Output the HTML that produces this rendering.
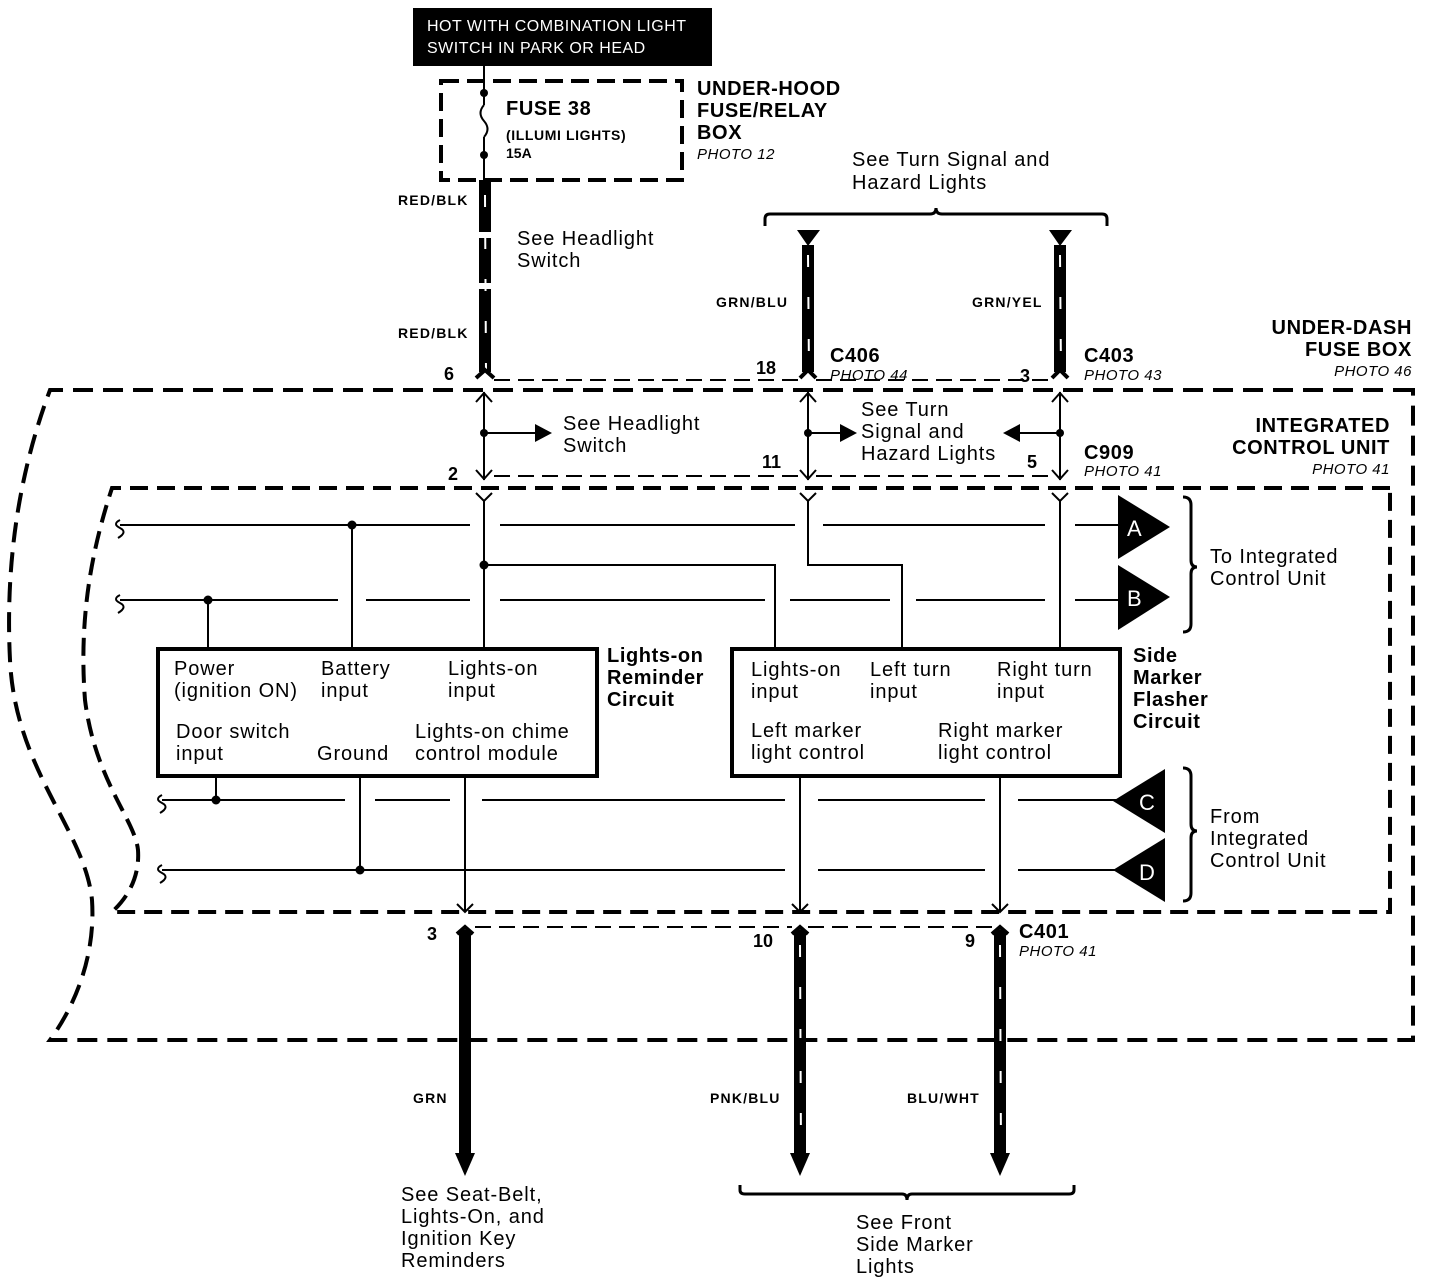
<!DOCTYPE html>
<html><head><meta charset="utf-8"><style>
html,body{margin:0;padding:0;background:#fff}
svg{display:block}
text{font-family:"Liberation Sans",Arial,sans-serif;fill:#000}
.t{font-size:20px;letter-spacing:0.9px}
.bt{font-size:20px;font-weight:bold;letter-spacing:0.6px}
.b{font-weight:bold}
.w{font-size:14px;font-weight:bold;letter-spacing:1.2px}
.i{font-style:italic;font-size:15px;letter-spacing:0.5px}
</style></head><body>
<svg width="1440" height="1284" viewBox="0 0 1440 1284" xmlns="http://www.w3.org/2000/svg">
<rect x="413" y="8" width="299" height="58" fill="#000"/>
<text x="427" y="31" font-size="16" letter-spacing="0.5" style="fill:#fff">HOT WITH COMBINATION LIGHT</text>
<text x="427" y="53" font-size="16" letter-spacing="0.5" style="fill:#fff">SWITCH IN PARK OR HEAD</text>
<rect x="441" y="81" width="241" height="99" fill="none" stroke="#000" stroke-width="4" stroke-dasharray="18 8"/>
<line x1="484" y1="66" x2="484" y2="105" stroke="#000" stroke-width="2"/>
<path d="M484 105 q-7 8 0 16 q7 8 0 16" fill="none" stroke="#000" stroke-width="2"/>
<line x1="484" y1="137" x2="484" y2="180" stroke="#000" stroke-width="2"/>
<circle cx="484" cy="93" r="4"/><circle cx="484" cy="155" r="4"/>
<text x="506" y="115" class="bt">FUSE 38</text>
<text x="506" y="140" font-size="14" class="b" letter-spacing="0.6">(ILLUMI LIGHTS)</text>
<text x="506" y="158" font-size="14" class="b">15A</text>
<text x="697" y="95" class="bt">UNDER-HOOD</text>
<text x="697" y="117" class="bt">FUSE/RELAY</text>
<text x="697" y="139" class="bt">BOX</text>
<text x="697" y="159" class="i">PHOTO 12</text>
<g stroke="#000" stroke-width="12">
<line x1="485" y1="180" x2="485" y2="232"/><line x1="485" y1="238" x2="485" y2="283"/><line x1="485" y1="289" x2="485" y2="372"/>
<line x1="808" y1="245" x2="808" y2="372"/><line x1="1060" y1="245" x2="1060" y2="372"/>
<line x1="465" y1="930" x2="465" y2="1155"/><line x1="800" y1="930" x2="800" y2="1155"/><line x1="1000" y1="930" x2="1000" y2="1155"/>
</g>
<g stroke="#fff" stroke-width="2" stroke-dasharray="12 30">
<line x1="485" y1="195" x2="486" y2="372"/><line x1="808" y1="255" x2="809" y2="372"/><line x1="1060" y1="255" x2="1061" y2="372"/>
<line x1="800" y1="945" x2="801" y2="1150"/><line x1="1000" y1="945" x2="1001" y2="1150"/>
</g>
<path d="M476 378 l9 -8 l9 8 M800 378 l8 -8 l8 8 M1052 378 l8 -8 l8 8" stroke="#000" stroke-width="4" fill="none"/>
<text x="398" y="205" class="w">RED/BLK</text>
<text x="398" y="338" class="w">RED/BLK</text>
<text x="517" y="245" class="t">See Headlight</text>
<text x="517" y="267" class="t">Switch</text>
<path d="M765 226 v-7 q0 -5 5 -5 h160 q6 0 6 -6 q0 6 6 6 h160 q5 0 5 5 v7" fill="none" stroke="#000" stroke-width="3"/>
<text x="852" y="166" class="t">See Turn Signal and</text>
<text x="852" y="189" class="t">Hazard Lights</text>
<polygon points="797,230 820,230 808,246"/><polygon points="1049,230 1072,230 1060,246"/>
<text x="716" y="307" class="w">GRN/BLU</text>
<text x="972" y="307" class="w">GRN/YEL</text>
<text x="830" y="362" class="bt">C406</text><text x="830" y="380" class="i">PHOTO 44</text>
<text x="1084" y="362" class="bt">C403</text><text x="1084" y="380" class="i">PHOTO 43</text>
<text x="444" y="380" font-size="18" class="b">6</text>
<text x="756" y="374" font-size="18" class="b">18</text>
<text x="1020" y="382" font-size="18" class="b">3</text>
<text x="1412" y="334" class="bt" text-anchor="end">UNDER-DASH</text>
<text x="1412" y="356" class="bt" text-anchor="end">FUSE BOX</text>
<text x="1412" y="376" class="i" text-anchor="end">PHOTO 46</text>
<line x1="494" y1="380" x2="800" y2="380" stroke="#000" stroke-width="2" stroke-dasharray="16 8"/>
<line x1="816" y1="380" x2="1052" y2="380" stroke="#000" stroke-width="2" stroke-dasharray="16 8"/>
<path d="M1413 390 H50 C20 470 5 560 10 660 C15 770 85 830 92 900 C96 960 72 1010 50 1040 H1413 Z" fill="none" stroke="#000" stroke-width="4" stroke-dasharray="20 10"/>
<path d="M1390 488 H112 C95 540 78 610 85 700 C95 780 135 820 138 850 C140 880 125 900 112 912 H1390 Z" fill="none" stroke="#000" stroke-width="4" stroke-dasharray="18 9"/>
<g stroke="#000" stroke-width="2" fill="none">
<line x1="484" y1="392" x2="484" y2="480"/><line x1="808" y1="392" x2="808" y2="480"/><line x1="1060" y1="392" x2="1060" y2="480"/>
<path d="M476 402 l8 -9 l8 9 M800 402 l8 -9 l8 9 M1052 402 l8 -9 l8 9"/>
<path d="M476 470 l8 9 l8 -9 M800 470 l8 9 l8 -9 M1052 470 l8 9 l8 -9"/>
<line x1="484" y1="433" x2="535" y2="433"/><line x1="808" y1="433" x2="840" y2="433"/><line x1="1060" y1="433" x2="1020" y2="433"/>
<line x1="494" y1="476" x2="800" y2="476" stroke-dasharray="16 8"/><line x1="816" y1="476" x2="1052" y2="476" stroke-dasharray="16 8"/>
<path d="M476 493 l8 8 l8 -8 M800 493 l8 8 l8 -8 M1052 493 l8 8 l8 -8"/>
<line x1="484" y1="501" x2="484" y2="648"/>
<path d="M808 501 V565 H902 V648"/>
<line x1="1060" y1="501" x2="1060" y2="648"/>
<path d="M484 565 H775 V648"/>
</g>
<circle cx="484" cy="433" r="4"/><circle cx="808" cy="433" r="4"/><circle cx="1060" cy="433" r="4"/>
<polygon points="535,424 552,433 535,442"/><polygon points="840,424 857,433 840,442"/><polygon points="1020,424 1003,433 1020,442"/>
<text x="563" y="430" class="t">See Headlight</text><text x="563" y="452" class="t">Switch</text>
<text x="861" y="416" class="t">See Turn</text><text x="861" y="438" class="t">Signal and</text><text x="861" y="460" class="t">Hazard Lights</text>
<text x="448" y="480" font-size="18" class="b">2</text>
<text x="762" y="468" font-size="18" class="b">11</text>
<text x="1027" y="468" font-size="18" class="b">5</text>
<text x="1084" y="459" class="bt">C909</text><text x="1084" y="476" class="i">PHOTO 41</text>
<text x="1390" y="432" class="bt" text-anchor="end">INTEGRATED</text>
<text x="1390" y="454" class="bt" text-anchor="end">CONTROL UNIT</text>
<text x="1390" y="474" class="i" text-anchor="end">PHOTO 41</text>
<g stroke="#000" stroke-width="2" fill="none">
<path d="M120 520 q-8 4 0 8 q8 4 -2 10"/><path d="M120 595 q-8 4 0 8 q8 4 -2 10"/>
<path d="M162 795 q-8 4 0 8 q8 4 -2 10"/><path d="M162 865 q-8 4 0 8 q8 4 -2 10"/>
<path d="M120 525 H470 M500 525 H795 M823 525 H1045 M1075 525 H1118"/>
<path d="M120 600 H338 M366 600 H470 M500 600 H765 M790 600 H890 M916 600 H1045 M1075 600 H1118"/>
<path d="M162 800 H345 M375 800 H450 M482 800 H785 M818 800 H985 M1018 800 H1118"/>
<path d="M162 870 H785 M818 870 H985 M1018 870 H1118"/>
<line x1="352" y1="525" x2="352" y2="648"/><line x1="208" y1="600" x2="208" y2="648"/>
<line x1="216" y1="777" x2="216" y2="800"/><line x1="360" y1="777" x2="360" y2="870"/>
<line x1="465" y1="777" x2="465" y2="912"/><line x1="800" y1="777" x2="800" y2="912"/><line x1="1000" y1="777" x2="1000" y2="912"/>
<path d="M457 904 l8 8 l8 -8 M792 904 l8 8 l8 -8 M992 904 l8 8 l8 -8"/>
<line x1="475" y1="927" x2="792" y2="927" stroke-dasharray="16 8"/><line x1="808" y1="927" x2="992" y2="927" stroke-dasharray="16 8"/>
</g>
<circle cx="352" cy="525" r="4.5"/><circle cx="208" cy="600" r="4.5"/><circle cx="484" cy="565" r="4.5"/>
<circle cx="216" cy="800" r="4.5"/><circle cx="360" cy="870" r="4.5"/>
<polygon points="1118,495 1170,527 1118,559"/><polygon points="1118,565 1170,597 1118,630"/>
<polygon points="1165,769 1113,801 1165,833"/><polygon points="1165,838 1113,870 1165,902"/>
<text x="1127" y="536" font-size="22" style="fill:#fff">A</text><text x="1127" y="606" font-size="22" style="fill:#fff">B</text>
<text x="1139" y="810" font-size="22" style="fill:#fff">C</text><text x="1139" y="880" font-size="22" style="fill:#fff">D</text>
<path d="M1183 497 q8 0 8 8 v55 q0 7 6 7 q-6 0 -6 7 v50 q0 8 -8 8" fill="none" stroke="#000" stroke-width="3"/>
<path d="M1183 768 q8 0 8 8 v48 q0 7 6 7 q-6 0 -6 7 v55 q0 8 -8 8" fill="none" stroke="#000" stroke-width="3"/>
<text x="1210" y="563" class="t">To Integrated</text><text x="1210" y="585" class="t">Control Unit</text>
<text x="1210" y="823" class="t">From</text><text x="1210" y="845" class="t">Integrated</text><text x="1210" y="867" class="t">Control Unit</text>
<rect x="158" y="649" width="439" height="127" fill="#fff" stroke="#000" stroke-width="4"/>
<rect x="732" y="649" width="388" height="127" fill="#fff" stroke="#000" stroke-width="4"/>
<text x="174" y="675" class="t">Power</text><text x="174" y="697" class="t">(ignition ON)</text>
<text x="321" y="675" class="t">Battery</text><text x="321" y="697" class="t">input</text>
<text x="448" y="675" class="t">Lights-on</text><text x="448" y="697" class="t">input</text>
<text x="176" y="738" class="t">Door switch</text><text x="176" y="760" class="t">input</text>
<text x="317" y="760" class="t">Ground</text>
<text x="415" y="738" class="t">Lights-on chime</text><text x="415" y="760" class="t">control module</text>
<text x="751" y="676" class="t">Lights-on</text><text x="751" y="698" class="t">input</text>
<text x="870" y="676" class="t">Left turn</text><text x="870" y="698" class="t">input</text>
<text x="997" y="676" class="t">Right turn</text><text x="997" y="698" class="t">input</text>
<text x="751" y="737" class="t">Left marker</text><text x="751" y="759" class="t">light control</text>
<text x="938" y="737" class="t">Right marker</text><text x="938" y="759" class="t">light control</text>
<text x="607" y="662" class="bt">Lights-on</text><text x="607" y="684" class="bt">Reminder</text><text x="607" y="706" class="bt">Circuit</text>
<text x="1133" y="662" class="bt">Side</text><text x="1133" y="684" class="bt">Marker</text><text x="1133" y="706" class="bt">Flasher</text><text x="1133" y="728" class="bt">Circuit</text>
<path d="M457 934 l8 -7 l8 7 M792 934 l8 -7 l8 7 M992 934 l8 -7 l8 7" stroke="#000" stroke-width="4" fill="none"/>
<text x="427" y="940" font-size="18" class="b">3</text>
<text x="753" y="947" font-size="18" class="b">10</text>
<text x="965" y="947" font-size="18" class="b">9</text>
<text x="1019" y="938" class="bt">C401</text><text x="1019" y="956" class="i">PHOTO 41</text>
<polygon points="455,1153 475,1153 465,1176"/><polygon points="790,1153 810,1153 800,1176"/><polygon points="990,1153 1010,1153 1000,1176"/>
<text x="413" y="1103" class="w">GRN</text>
<text x="710" y="1103" class="w">PNK/BLU</text>
<text x="907" y="1103" class="w">BLU/WHT</text>
<path d="M740 1185 v5 q0 4 5 4 h157 q5 0 5 6 q0 -6 5 -6 h157 q5 0 5 -4 v-5" fill="none" stroke="#000" stroke-width="3"/>
<text x="401" y="1201" class="t">See Seat-Belt,</text><text x="401" y="1223" class="t">Lights-On, and</text><text x="401" y="1245" class="t">Ignition Key</text><text x="401" y="1267" class="t">Reminders</text>
<text x="856" y="1229" class="t">See Front</text><text x="856" y="1251" class="t">Side Marker</text><text x="856" y="1273" class="t">Lights</text>
</svg>
</body></html>
